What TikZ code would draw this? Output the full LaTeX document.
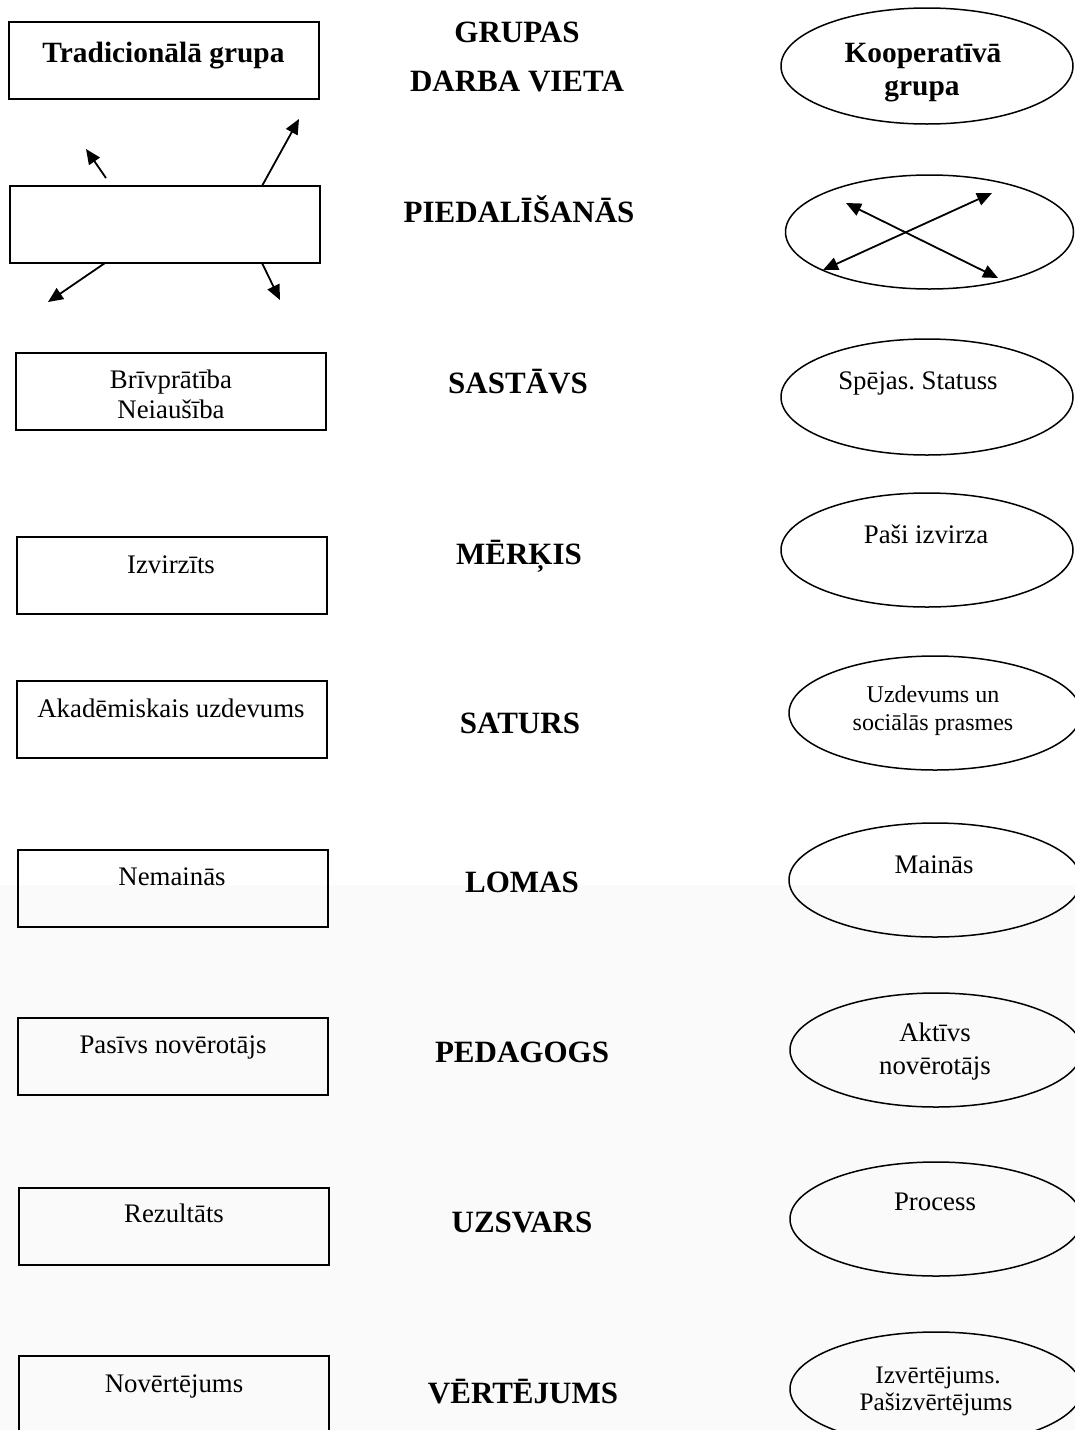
\documentclass[tikz,border=0pt]{standalone}
\usepackage{fontspec}
\setmainfont{Liberation Serif}
\usetikzlibrary{shapes.geometric,arrows.meta}
\frenchspacing
\begin{document}
\begin{tikzpicture}[x=0.5pt,y=-0.5pt,
  box/.style={draw, line width=1pt, rectangle, inner sep=0pt, outer sep=0pt,
    minimum width=155pt, minimum height=38.5pt},
  oval/.style={draw, ellipse, line width=0.75pt, inner sep=0pt, outer sep=0pt,
    minimum width=146pt, minimum height=58pt},
  head/.style={font=\bfseries\fontsize{15.5}{18}\selectfont, anchor=base, inner sep=0pt},
  title/.style={font=\bfseries\fontsize{14.7}{17}\selectfont, anchor=base, inner sep=0pt},
  txt/.style={font=\fontsize{13.4}{16}\selectfont, anchor=base, inner sep=0pt},
  stxt/.style={font=\fontsize{12}{14}\selectfont, anchor=base, inner sep=0pt},
  tip/.tip={Triangle[length=7.5pt,width=6.5pt]},
  arr/.style={line width=0.9pt, -tip},
  darr/.style={line width=0.9pt, tip-tip}]

\useasboundingbox (0,0) rectangle (1075,1430);
\clip (0,0) rectangle (1075,1430);
\fill[black!2] (0,885) rectangle (1075,1430);

% middle column: the compared aspects
\node[head] (h1a) at (517,42)   {GRUPAS};
\node[head] (h1b) at (517,91)   {DARBA VIETA};
\node[head] (h2)  at (519,222)  {PIEDALĪŠANĀS};
\node[head] (h3)  at (518,393)  {SASTĀVS};
\node[head] (h4)  at (519,564)  {MĒRĶIS};
\node[head] (h5)  at (520,733)  {SATURS};
\node[head] (h6)  at (522,892)  {LOMAS};
\node[head] (h7)  at (522,1062) {PEDAGOGS};
\node[head] (h8)  at (522,1232) {UZSVARS};
\node[head] (h9)  at (523,1403) {VĒRTĒJUMS};

% left column: traditional group
\node[box] (b1) at (163.5,60)  {};
\node[box] (b2) at (164.5,224.5) {};
\node[box] (b3) at (171,391.5) {};
\node[box] (b4) at (172,575.5) {};
\node[box] (b5) at (172,719.5) {};
\node[box] (b6) at (172.5,888) {};
\node[box] (b7) at (173,1056.5) {};
\node[box] (b8) at (174,1226) {};
\node[box] (b9) at (174,1394) {};

\node[title] (t1)  at (163.5,62) {Tradicionālā grupa};
\node[txt]   (t3a) at (171,388)  {Brīvprātība};
\node[txt]   (t3b) at (171,418)  {Neiaušība};
\node[txt]   (t4)  at (171,573)  {Izvirzīts};
\node[txt]   (t5)  at (171,717)  {Akadēmiskais uzdevums};
\node[txt]   (t6)  at (172,885)  {Nemainās};
\node[txt]   (t7)  at (173,1053) {Pasīvs novērotājs};
\node[txt]   (t8)  at (174,1222) {Rezultāts};
\node[txt]   (t9)  at (174,1392) {Novērtējums};

% one-way participation arrows
\coordinate (q1) at (86,149);
\coordinate (q2) at (299,119);
\coordinate (q3) at (48,302);
\coordinate (q4) at (280,300);
\draw[arr] ([xshift=-29.25pt,yshift=4pt]b2.north) -- (q1);
\draw[arr] ([xshift=48.75pt]b2.north) -- (q2);
\draw[arr] ([xshift=-29.75pt]b2.south) -- (q3);
\draw[arr] ([xshift=48.75pt]b2.south) -- (q4);

% right column: cooperative group
\node[oval] (e1) at (927,66)   {};
\node[oval, minimum width=144pt, minimum height=57pt] (e2) at (929.5,232) {};
\node[oval] (e3) at (927,397)  {};
\node[oval, minimum height=57pt] (e4) at (927,550) {};
\node[oval, minimum height=57pt] (e5) at (935,713) {};
\node[oval, minimum height=57pt] (e6) at (935,880) {};
\node[oval, minimum height=57pt] (e7) at (936,1050) {};
\node[oval, minimum height=57pt] (e8) at (936,1219) {};
\node[oval, minimum height=57pt] (e9) at (936,1389) {};

\node[title] (k1a) at (923,62)  {Kooperatīvā};
\node[title] (k1b) at (922,95)  {grupa};
\node[txt]   (k3)  at (918,389) {Spējas. Statuss};
\node[txt]   (k4)  at (926,543) {Paši izvirza};
\node[stxt]  (k5a) at (933,702) {Uzdevums un};
\node[stxt]  (k5b) at (933,730) {sociālās prasmes};
\node[txt]   (k6)  at (934,873) {Mainās};
\node[txt]   (k7a) at (935,1041) {Aktīvs};
\node[txt]   (k7b) at (935,1074) {novērotājs};
\node[txt]   (k8)  at (935,1210) {Process};
\node[stxt, font=\fontsize{12.6}{14}\selectfont] (k9a) at (938,1383) {Izvērtējums.};
\node[stxt, font=\fontsize{12.6}{14}\selectfont] (k9b) at (936,1410) {Pašizvērtējums};

% two-way participation arrows
\coordinate (p1) at (823,270);
\coordinate (p2) at (992,193);
\coordinate (p3) at (846,203);
\coordinate (p4) at (998,278);
\draw[darr] (p1) -- (p2);
\draw[darr] (p3) -- (p4);
\end{tikzpicture}
\end{document}
